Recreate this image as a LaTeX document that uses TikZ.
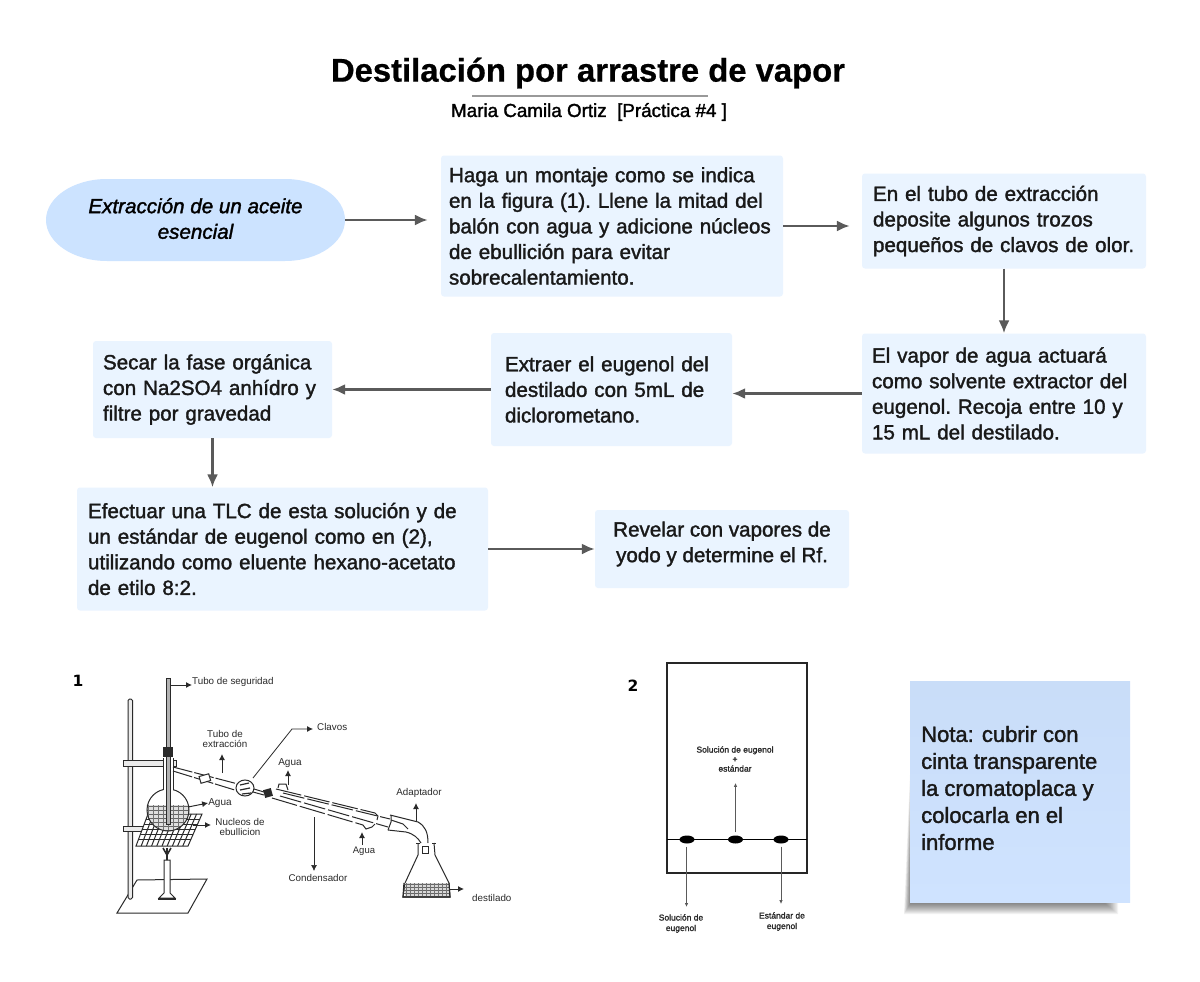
\documentclass[tikz,border=0pt]{standalone}
\usepackage{fontspec}
\setmainfont{Liberation Sans}
\newfontfamily\bodyfont[FakeBold=1.6]{Liberation Sans}
\newfontfamily\bodyital[FakeBold=1.6]{Liberation Sans Italic}
\newfontfamily\headfont[FakeBold=0.6]{Liberation Sans Bold}
\newfontfamily\numfont{DejaVu Sans Bold}
\usetikzlibrary{arrows.meta,calc,shapes.geometric}
\definecolor{boxfill}{HTML}{EAF4FF}
\definecolor{ellfill}{HTML}{CCE3FF}
\definecolor{notetop}{HTML}{C9DDF8}
\definecolor{notebot}{HTML}{CFE3FF}
\definecolor{arrgray}{HTML}{5A5A5A}
\definecolor{inkgray}{HTML}{2A2A2A}
\tikzset{
  x=1pt,y=-1pt,
  flowbox/.style={fill=boxfill,rounded corners=3pt,inner sep=0pt,align=left,font=\bodyfont\frenchspacing\fontsize{20.6}{25.6}\selectfont,text=black!90},
  flowarrow/.style={draw=arrgray,line width=2.3pt,-{Latex[length=13pt,width=11pt]}},
  figline/.style={draw=inkgray,line width=1pt},
  figarrow/.style={draw=inkgray,line width=1pt,-{Latex[length=6pt,width=6pt]}},
  figlabel/.style={font=\fontsize{9.8}{10.5}\selectfont,text=inkgray,align=center,inner sep=0pt},
  tlclabel/.style={font=\bodyfont\fontsize{8.5}{10.5}\selectfont,text=inkgray,align=center,inner sep=0pt},
  tlcarrow/.style={draw=arrgray,line width=0.9pt,-{Latex[length=4pt,width=3.5pt]}},
  spot/.style={ellipse,fill=black,minimum width=15pt,minimum height=8pt,inner sep=0pt},
}
\begin{document}
\begin{tikzpicture}
\useasboundingbox (0,0) rectangle (1200,982);
\fill[white] (0,0) rectangle (1200,982);

% title
\node[inner sep=0pt,font=\headfont\fontsize{32.8}{36}\selectfont] (title) at (588,73) {Destilación por arrastre de vapor};
\draw[draw=black!40,line width=1.4pt] (472,96) -- (708,96);
\node[inner sep=0pt,font=\bodyfont\frenchspacing\fontsize{18.8}{20}\selectfont] (sub) at (589,112) {Maria Camila Ortiz\ \ [Práctica \#4 ]};

% flow boxes
\fill[ellfill] (107,179) -- (285,179) arc[start angle=-90,end angle=90,x radius=60,y radius=41] -- (107,261) arc[start angle=90,end angle=270,x radius=61,y radius=41] -- cycle;
\node[minimum width=299pt,minimum height=82pt,inner sep=0pt] (ell) at (195.5,220) {};
\node[inner sep=0pt,align=center,font=\bodyital\fontsize{20.6}{25.6}\selectfont] (ellt) at (195.5,218.5) {Extracción de un aceite\\esencial};
\node[flowbox,minimum width=342pt,minimum height=141pt,text width=326pt] (b1) at (612,226) {Haga un montaje como se indica\\en la figura (1). Llene la mitad del\\balón con agua y adicione núcleos\\de ebullición para evitar\\sobrecalentamiento.};
\node[flowbox,minimum width=284pt,minimum height=95pt,text width=262pt] (b2) at (1004,221) {En el tubo de extracción\\deposite algunos trozos\\pequeños de clavos de olor.};
\node[flowbox,minimum width=284pt,minimum height=120pt,text width=264pt] (b3) at (1004,393.5) {El vapor de agua actuará\\como solvente extractor del\\eugenol. Recoja entre 10 y\\15 mL del destilado.};
\node[flowbox,minimum width=241pt,minimum height=113pt,text width=213pt] (b4) at (611.5,389.5) {Extraer el eugenol del\\destilado con 5mL de\\diclorometano.};
\node[flowbox,minimum width=239pt,minimum height=97pt,text width=219pt] (b5) at (212.5,389.5) {Secar la fase orgánica\\con Na2SO4 anhídro y\\filtre por gravedad};
\node[flowbox,minimum width=411pt,minimum height=123pt,text width=389pt] (b6) at (282.5,549) {Efectuar una TLC de esta solución y de\\un estándar de eugenol como en (2),\\utilizando como eluente hexano-acetato\\de etilo 8:2.};
\node[flowbox,minimum width=254pt,minimum height=78pt] (b7) at (722,549) {};
\node[inner sep=0pt,align=center,font=\bodyfont\frenchspacing\fontsize{20.6}{25.6}\selectfont,text=black!90] (b7t) at (722,544) {Revelar con vapores de\\yodo y determine el Rf.};

% flow arrows
\draw[flowarrow,shorten >=13pt] (ell.east) -- (ell.east -| b1.west);
\draw[flowarrow,shorten >=12pt] (b1.east) -- (b1.east -| b2.west);
\draw[flowarrow] (b2.south) -- (b3.north);
\draw[flowarrow] (b3.west) -- (b3.west -| b4.east);
\draw[flowarrow] (b4.west) -- (b4.west -| b5.east);
\draw[flowarrow] (b5.south) -- (b5.south |- b6.north);
\draw[flowarrow] (b6.east) -- (b6.east -| b7.west);

% note with soft shadow
\foreach \i in {0,...,11}{
  \fill[black,opacity=0.05] (910,{775+\i*9}) -- ({904+\i*0.6},{914-\i*1.0}) -- ({1118-\i*1.2},{914-\i*1.0}) -- ({1118-\i*1.2},895) -- cycle;
}
\node[top color=notetop,bottom color=notebot,minimum width=220pt,minimum height=221pt,inner sep=0pt] (note) at (1020,791.5) {};
\node[anchor=west,inner sep=0pt,align=left,font=\bodyfont\fontsize{22}{27}\selectfont,text=black!90] (notetext) at (921,788) {Nota: cubrir con\\cinta transparente\\la cromatoplaca y\\colocarla en el\\informe};

% figure numbers
\node[inner sep=0pt,font=\numfont\fontsize{15.5}{16}\selectfont] (n1) at (78,680.5) {1};
\node[inner sep=0pt,font=\numfont\fontsize{15.5}{16}\selectfont] (n2) at (633,686) {2};

% ---------- figure 1: apparatus ----------
% base, stand, burner
\draw[figline] (137,880) -- (207,879) -- (188,913) -- (117,913) -- cycle;
\draw[figline,fill=black!8,rounded corners=1.5pt] (128,899) rectangle (132.5,699);
\draw[figline,fill=black!8] (123,760) rectangle (176,766);
\draw[figline,fill=black!8] (123,826) rectangle (148,831);
% wire gauze
\draw[figline,fill=white] (148,814) -- (202,814) -- (188,846) -- (136,846) -- cycle;
\foreach \t in {0.16,0.32,...,0.9}{
  \draw[inkgray,line width=1.2pt] ($(148,814)!\t!(136,846)$) -- ($(202,814)!\t!(188,846)$);
}
\foreach \t in {0.1,0.2,...,0.95}{
  \draw[inkgray,line width=1pt] ($(148,814)!\t!(202,814)$) -- ($(136,846)!\t!(188,846)$);
}
% burner
\draw[figline,fill=white] (164,860) -- (164,893) -- (159,898) -- (175,898) -- (170,893) -- (170,860) -- cycle;
\draw[inkgray,line width=2pt] (158,899) -- (176,899);
\draw[inkgray,line width=1.6pt] (167,860) -- (167,855) (167,855) -- (163,848) (167,855) -- (171,848) (167,858) -- (167,848);
% flask with water
\fill[white] (168,810) circle (21);
\begin{scope}
  \clip (168,810) circle (21);
  \fill[black!12] (145,805) rectangle (190,835);
  \foreach \yy in {806,810,...,832}{\draw[black!60,line width=0.7pt] (145,\yy) -- (190,\yy);}
  \foreach \xx in {148,153,...,190}{\draw[black!55,line width=0.6pt] (\xx,805) -- (\xx,835);}
\end{scope}
\draw[figline] (168,810) circle (21);
\fill[white] (163.5,758) rectangle (172.5,792);
\draw[figline] (163,758) -- (163,790) (173,758) -- (173,790);
% safety tube and stopper
\draw[figline,fill=black!30] (166,678) rectangle (170,824);
\fill[inkgray] (163,747) rectangle (173,757);
% side arm
\draw[figline,dash pattern=on 20pt off 2pt] (173,767) -- (238,784);
\draw[figline,dash pattern=on 20pt off 2pt] (173,771) -- (238,791);
\draw[figline,fill=white,rotate around={16:(205,779)}] (200,775) rectangle (210,782);
% bulb with cloves
\draw[figline,fill=white] (245,788) ellipse[x radius=9,y radius=8];
\draw[inkgray,line width=1.2pt] (240,785) -- (249,783) (240,790) -- (250,788) (242,794) -- (251,793);
\draw[figline] (254,789) -- (264,792) (253,792) -- (264,795);
\fill[inkgray,rotate around={16:(268,793)}] (264,789) rectangle (272,797);
% condenser
\draw[figline,dash pattern=on 26pt off 3pt] (276,789) -- (375,813);
\draw[figline,dash pattern=on 26pt off 3pt] (272,798) -- (363,825);
\draw[figline,dash pattern=on 22pt off 3pt] (283,793) -- (390,819);
\draw[figline,dash pattern=on 22pt off 3pt] (280,796) -- (388,827);
\draw[figline] (375,813) -- (378,816) -- (377,820);
\draw[figline] (278,788) -- (279,784) -- (286,784) -- (288,790);
\draw[figline] (363,825) -- (366,829) -- (372,827) -- (375,824);
% adapter
\draw[figline] (390,815) -- (418,822) .. controls (425,826) and (428,832) .. (428,843);
\draw[figline] (388,830) -- (406,832) .. controls (414,834) and (418,838) .. (421,843);
\draw[figline] (388,830) -- (391,822) -- (391,815);
\draw[figline] (391,820) -- (403,824) -- (408,829);
\draw[figline] (422,846) rectangle (428,853);
% receiver flask
\draw[figline] (418,843) -- (418,855) -- (405,883) -- (403,897) -- (450,897) -- (449,883) -- (435,855) -- (434,843);
\draw[figline] (416,843) -- (420,843) (432,843) -- (436,843);
\fill[black!15] (405,883) rectangle (449,897);
\foreach \yy in {884,887,...,896}{\draw[black!60,line width=0.7pt] (404,\yy) -- (450,\yy);}
\foreach \xx in {406,410,...,448}{\draw[black!55,line width=0.6pt] (\xx,883) -- (\xx,897);}
\draw[inkgray,line width=1.2pt] (404,883) -- (403,897) -- (450,897) -- (449,883);
% labels and arrows of figure 1
\node[figlabel,anchor=west] (l1) at (192,682) {Tubo de seguridad};
\draw[figarrow] (170,685) -- (l1.west |- 170,685);
\node[figlabel] (l2) at (225,739) {Tubo de\\[-1pt]extracción};
\draw[figarrow] (222,773) -- (222,754);
\node[figlabel,anchor=west] (l3) at (317,727) {Clavos};
\coordinate (c3) at (253,778);
\draw[draw=inkgray,line width=0.8pt,-{Latex[length=6pt,width=6pt]}] (c3) -- (292,729) -- (313,729);
\node[figlabel,font=\fontsize{10}{11}\selectfont] (l4) at (290,763) {Agua};
\draw[figarrow] (288,785) -- (288,770);
\node[figlabel,font=\fontsize{10}{11}\selectfont] (l5) at (220,803) {Agua};
\draw[figarrow] (188,807) -- (l5.west);
\node[figlabel] (l6) at (240,827) {Nucleos de\\ebullicion};
\draw[figarrow] (193,825) -- (211,825);
\node[figlabel] (l7) at (318,878) {Condensador};
\draw[draw=inkgray,line width=0.7pt,-{Latex[length=6pt,width=6pt]}] (314,817) -- (314,871);
\node[figlabel,font=\fontsize{9.5}{11}\selectfont] (l8) at (364,851) {Agua};
\draw[figarrow] (362,845) -- (362,832);
\node[figlabel] (l9) at (419,793) {Adaptador};
\draw[figarrow] (416,821) -- (416,803);
\node[figlabel,anchor=west] (l10) at (472,898) {destilado};
\draw[figarrow] (449,889) -- (464,889);

% ---------- figure 2: TLC plate ----------
\draw[black!85,line width=1.6pt] (667,663) rectangle (807,873);
\draw[black,line width=1pt] (667,839) -- (807,839);
\node[spot] (s1) at (687,839.5) {};
\node[spot] (s2) at (735.5,839.5) {};
\node[spot] (s3) at (781,839.5) {};
\node[tlclabel] (t2) at (735,759) {Solución de eugenol\\[-1pt]+\\[-1pt]estándar};
\node[tlclabel] (t1) at (681,923.5) {Solución de\\eugenol};
\node[tlclabel] (t3) at (782,921.5) {Estándar de\\eugenol};
\draw[tlcarrow,shorten <=3pt,shorten >=11pt] (s2.north) -- (t2.south -| s2.north);
\draw[tlcarrow,shorten <=3pt,shorten >=11pt] (s1.south) ++(-0.5,0) -- (686.5,918);
\draw[tlcarrow,shorten <=3pt,shorten >=8pt] (s3.south) -- (s3.south |- t3.north);
\end{tikzpicture}
\end{document}
